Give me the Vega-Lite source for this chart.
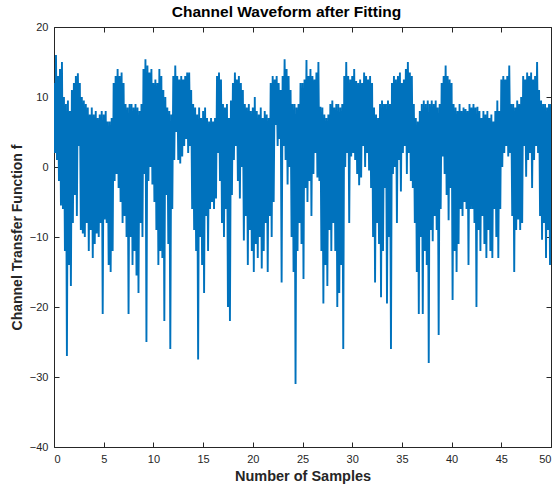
{
  "$schema": "https://vega.github.io/schema/vega-lite/v6.json",
  "autosize": {"type": "none"},
  "padding": {"left": 54, "top": 27, "right": 6, "bottom": 38},
  "width": 497,
  "height": 420,
  "background": "white",
  "config": {
    "font": "Liberation Sans",
    "view": {"stroke": null},
    "axis": {
      "domainColor": "#262626",
      "tickColor": "#262626",
      "labelColor": "#262626",
      "titleColor": "#262626",
      "labelFontSize": 11,
      "titleFontSize": 14.5,
      "titleFontWeight": "bold",
      "tickSize": -5,
      "grid": false,
      "domainWidth": 1,
      "tickWidth": 1
    }
  },
  "title": {"text": "Channel Waveform after Fitting", "fontSize": 15.5, "fontWeight": "bold", "color": "#000000", "anchor": "middle", "offset": 1, "dx": -16, "font": "Liberation Sans"},
  "data": {"values": [
{"x":0.0,"y":12},{"x":0.1,"y":2},{"x":0.2,"y":16},{"x":0.3,"y":1},{"x":0.4,"y":13},{"x":0.5,"y":-2},{"x":0.6,"y":14},{"x":0.7,"y":-5.5},{"x":0.8,"y":15},{"x":0.9,"y":-6},
{"x":1.0,"y":10},{"x":1.1,"y":-12},{"x":1.2,"y":9},{"x":1.3,"y":-27},{"x":1.4,"y":9.5},{"x":1.5,"y":-14},{"x":1.6,"y":8},{"x":1.7,"y":-17},{"x":1.8,"y":11},{"x":1.9,"y":-8},
{"x":2.0,"y":12},{"x":2.1,"y":-4},{"x":2.2,"y":13},{"x":2.3,"y":-7},{"x":2.4,"y":13.4},{"x":2.5,"y":3},{"x":2.6,"y":12},{"x":2.7,"y":-9},{"x":2.8,"y":10},{"x":2.9,"y":-9.5},
{"x":3.0,"y":9.5},{"x":3.1,"y":-10},{"x":3.2,"y":9},{"x":3.3,"y":-8},{"x":3.4,"y":8.5},{"x":3.5,"y":-12},{"x":3.6,"y":7.5},{"x":3.7,"y":-9},{"x":3.8,"y":8.5},{"x":3.9,"y":-13},
{"x":4.0,"y":7.5},{"x":4.1,"y":-11},{"x":4.2,"y":8},{"x":4.3,"y":-9.5},{"x":4.4,"y":7},{"x":4.5,"y":-10},{"x":4.6,"y":7.5},{"x":4.7,"y":-8},{"x":4.8,"y":8},{"x":4.9,"y":-21},
{"x":5.0,"y":7.5},{"x":5.1,"y":-7.5},{"x":5.2,"y":8},{"x":5.3,"y":-8},{"x":5.4,"y":6.5},{"x":5.5,"y":-14},{"x":5.6,"y":6.5},{"x":5.7,"y":-15},{"x":5.8,"y":7},{"x":5.9,"y":-12},
{"x":6.0,"y":12},{"x":6.1,"y":-2},{"x":6.2,"y":13},{"x":6.3,"y":-1},{"x":6.4,"y":14},{"x":6.5,"y":-3},{"x":6.6,"y":13},{"x":6.7,"y":-5},{"x":6.8,"y":13.5},{"x":6.9,"y":-8},
{"x":7.0,"y":12},{"x":7.1,"y":-7},{"x":7.2,"y":9},{"x":7.3,"y":-10},{"x":7.4,"y":8.5},{"x":7.5,"y":-21},{"x":7.6,"y":9},{"x":7.7,"y":-10},{"x":7.8,"y":9},{"x":7.9,"y":-14},
{"x":8.0,"y":8.5},{"x":8.1,"y":-12},{"x":8.2,"y":9},{"x":8.3,"y":-15.5},{"x":8.4,"y":8.5},{"x":8.5,"y":-18},{"x":8.6,"y":8},{"x":8.7,"y":-8},{"x":8.8,"y":9},{"x":8.9,"y":-10},
{"x":9.0,"y":14},{"x":9.1,"y":-1},{"x":9.2,"y":15.4},{"x":9.3,"y":-25},{"x":9.4,"y":14.5},{"x":9.5,"y":-2},{"x":9.6,"y":13.5},{"x":9.7,"y":0},{"x":9.8,"y":14},{"x":9.9,"y":-2.5},
{"x":10.0,"y":12},{"x":10.1,"y":-5},{"x":10.2,"y":12.5},{"x":10.3,"y":-9},{"x":10.4,"y":12},{"x":10.5,"y":-14},{"x":10.6,"y":14},{"x":10.7,"y":-12},{"x":10.8,"y":13},{"x":10.9,"y":-13},
{"x":11.0,"y":11},{"x":11.1,"y":-22},{"x":11.2,"y":10},{"x":11.3,"y":-4},{"x":11.4,"y":8.5},{"x":11.5,"y":-11},{"x":11.6,"y":8},{"x":11.7,"y":-26},{"x":11.8,"y":7.5},{"x":11.9,"y":-6},
{"x":12.0,"y":13},{"x":12.1,"y":1},{"x":12.2,"y":14.5},{"x":12.3,"y":5},{"x":12.4,"y":13},{"x":12.5,"y":1},{"x":12.6,"y":12.5},{"x":12.7,"y":0.5},{"x":12.8,"y":13},{"x":12.9,"y":1.5},
{"x":13.0,"y":12.5},{"x":13.1,"y":3},{"x":13.2,"y":13},{"x":13.3,"y":4},{"x":13.4,"y":13.5},{"x":13.5,"y":2},{"x":13.6,"y":13.5},{"x":13.7,"y":3},{"x":13.8,"y":11},{"x":13.9,"y":-6},
{"x":14.0,"y":9},{"x":14.1,"y":-9},{"x":14.2,"y":8.5},{"x":14.3,"y":-12},{"x":14.4,"y":7.5},{"x":14.5,"y":-27.5},{"x":14.6,"y":8.5},{"x":14.7,"y":-10},{"x":14.8,"y":7},{"x":14.9,"y":-14},
{"x":15.0,"y":8},{"x":15.1,"y":-18},{"x":15.2,"y":8.5},{"x":15.3,"y":-7},{"x":15.4,"y":7},{"x":15.5,"y":-12},{"x":15.6,"y":6.5},{"x":15.7,"y":-6},{"x":15.8,"y":7},{"x":15.9,"y":-5},
{"x":16.0,"y":6.5},{"x":16.1,"y":-6},{"x":16.2,"y":7},{"x":16.3,"y":-4.5},{"x":16.4,"y":13},{"x":16.5,"y":2},{"x":16.6,"y":13.5},{"x":16.7,"y":-2},{"x":16.8,"y":12.5},{"x":16.9,"y":-8},
{"x":17.0,"y":9},{"x":17.1,"y":-10},{"x":17.2,"y":8.5},{"x":17.3,"y":-6},{"x":17.4,"y":9},{"x":17.5,"y":-20},{"x":17.6,"y":7},{"x":17.7,"y":-22},{"x":17.8,"y":9.5},{"x":17.9,"y":-4},
{"x":18.0,"y":12},{"x":18.1,"y":1},{"x":18.2,"y":13.5},{"x":18.3,"y":3},{"x":18.4,"y":12.5},{"x":18.5,"y":-2},{"x":18.6,"y":13},{"x":18.7,"y":-4.5},{"x":18.8,"y":12},{"x":18.9,"y":0},
{"x":19.0,"y":11},{"x":19.1,"y":-10.5},{"x":19.2,"y":9},{"x":19.3,"y":-7},{"x":19.4,"y":8.5},{"x":19.5,"y":-14},{"x":19.6,"y":9},{"x":19.7,"y":-9},{"x":19.8,"y":8},{"x":19.9,"y":-12},
{"x":20.0,"y":8.5},{"x":20.1,"y":-15},{"x":20.2,"y":10},{"x":20.3,"y":-11},{"x":20.4,"y":8},{"x":20.5,"y":-13},{"x":20.6,"y":7.5},{"x":20.7,"y":-10},{"x":20.8,"y":8.5},{"x":20.9,"y":-14.5},
{"x":21.0,"y":7},{"x":21.1,"y":-12},{"x":21.2,"y":8},{"x":21.3,"y":-8},{"x":21.4,"y":7.5},{"x":21.5,"y":-15},{"x":21.6,"y":7},{"x":21.7,"y":-7},{"x":21.8,"y":12},{"x":21.9,"y":-10},
{"x":22.0,"y":13},{"x":22.1,"y":-5},{"x":22.2,"y":12.5},{"x":22.3,"y":6},{"x":22.4,"y":13},{"x":22.5,"y":3},{"x":22.6,"y":12},{"x":22.7,"y":4},{"x":22.8,"y":11},{"x":22.9,"y":-16.5},
{"x":23.0,"y":13},{"x":23.1,"y":3},{"x":23.2,"y":15.4},{"x":23.3,"y":1},{"x":23.4,"y":14},{"x":23.5,"y":-2.5},{"x":23.6,"y":13},{"x":23.7,"y":0},{"x":23.8,"y":11},{"x":23.9,"y":-10},
{"x":24.0,"y":9},{"x":24.1,"y":-15},{"x":24.2,"y":9},{"x":24.3,"y":-31},{"x":24.4,"y":8.5},{"x":24.5,"y":-12},{"x":24.6,"y":9},{"x":24.7,"y":-8},{"x":24.8,"y":12},{"x":24.9,"y":-11},
{"x":25.0,"y":12},{"x":25.1,"y":-16},{"x":25.2,"y":12.5},{"x":25.3,"y":-3},{"x":25.4,"y":15.3},{"x":25.5,"y":-5},{"x":25.6,"y":13},{"x":25.7,"y":-2},{"x":25.8,"y":14},{"x":25.9,"y":-7},
{"x":26.0,"y":13},{"x":26.1,"y":-1},{"x":26.2,"y":12.5},{"x":26.3,"y":2},{"x":26.4,"y":13.5},{"x":26.5,"y":-1.5},{"x":26.6,"y":15},{"x":26.7,"y":-2},{"x":26.8,"y":8.6},{"x":26.9,"y":-12},
{"x":27.0,"y":8.5},{"x":27.1,"y":-19.5},{"x":27.2,"y":7.5},{"x":27.3,"y":-14},{"x":27.4,"y":7},{"x":27.5,"y":-17},{"x":27.6,"y":7.5},{"x":27.7,"y":-9},{"x":27.8,"y":9},{"x":27.9,"y":-12},
{"x":28.0,"y":9.5},{"x":28.1,"y":-8},{"x":28.2,"y":8.5},{"x":28.3,"y":-12},{"x":28.4,"y":9},{"x":28.5,"y":-20},{"x":28.6,"y":9},{"x":28.7,"y":-18},{"x":28.8,"y":8.5},{"x":28.9,"y":-14},
{"x":29.0,"y":9},{"x":29.1,"y":-26},{"x":29.2,"y":13},{"x":29.3,"y":0},{"x":29.4,"y":15},{"x":29.5,"y":2},{"x":29.6,"y":13},{"x":29.7,"y":-8},{"x":29.8,"y":12.5},{"x":29.9,"y":1.5},
{"x":30.0,"y":13},{"x":30.1,"y":2},{"x":30.2,"y":14},{"x":30.3,"y":1},{"x":30.4,"y":12.3},{"x":30.5,"y":-1},{"x":30.6,"y":12},{"x":30.7,"y":-2.6},{"x":30.8,"y":12.5},{"x":30.9,"y":-1.5},
{"x":31.0,"y":12},{"x":31.1,"y":3},{"x":31.2,"y":13.5},{"x":31.3,"y":0},{"x":31.4,"y":13},{"x":31.5,"y":2},{"x":31.6,"y":12.5},{"x":31.7,"y":-0.5},{"x":31.8,"y":13},{"x":31.9,"y":-3},
{"x":32.0,"y":12},{"x":32.1,"y":-10},{"x":32.2,"y":8.5},{"x":32.3,"y":-16.5},{"x":32.4,"y":7.5},{"x":32.5,"y":-8},{"x":32.6,"y":7},{"x":32.7,"y":-11},{"x":32.8,"y":9},{"x":32.9,"y":-18.6},
{"x":33.0,"y":9.5},{"x":33.1,"y":-12},{"x":33.2,"y":9},{"x":33.3,"y":-3},{"x":33.4,"y":9},{"x":33.5,"y":-19.5},{"x":33.6,"y":9.5},{"x":33.7,"y":-10},{"x":33.8,"y":9},{"x":33.9,"y":-26},
{"x":34.0,"y":12},{"x":34.1,"y":-1},{"x":34.2,"y":13},{"x":34.3,"y":0},{"x":34.4,"y":12.5},{"x":34.5,"y":-8},{"x":34.6,"y":13},{"x":34.7,"y":1},{"x":34.8,"y":13.5},{"x":34.9,"y":-3.5},
{"x":35.0,"y":12},{"x":35.1,"y":2},{"x":35.2,"y":12.5},{"x":35.3,"y":3},{"x":35.4,"y":14},{"x":35.5,"y":-1},{"x":35.6,"y":15},{"x":35.7,"y":2},{"x":35.8,"y":13.5},{"x":35.9,"y":-2},
{"x":36.0,"y":13},{"x":36.1,"y":-3},{"x":36.2,"y":9},{"x":36.3,"y":-8},{"x":36.4,"y":7},{"x":36.5,"y":-15},{"x":36.6,"y":6.5},{"x":36.7,"y":-21},{"x":36.8,"y":8},{"x":36.9,"y":-10},
{"x":37.0,"y":9},{"x":37.1,"y":-21},{"x":37.2,"y":9.5},{"x":37.3,"y":-12},{"x":37.4,"y":9},{"x":37.5,"y":-14},{"x":37.6,"y":9.5},{"x":37.7,"y":-28},{"x":37.8,"y":9},{"x":37.9,"y":-9},
{"x":38.0,"y":9.5},{"x":38.1,"y":-10.6},{"x":38.2,"y":9},{"x":38.3,"y":-7},{"x":38.4,"y":9.5},{"x":38.5,"y":-9},{"x":38.6,"y":8.5},{"x":38.7,"y":-24},{"x":38.8,"y":9},{"x":38.9,"y":-6},
{"x":39.0,"y":12},{"x":39.1,"y":1.5},{"x":39.2,"y":13},{"x":39.3,"y":-1},{"x":39.4,"y":14.5},{"x":39.5,"y":-4},{"x":39.6,"y":13},{"x":39.7,"y":-7.6},{"x":39.8,"y":12.5},{"x":39.9,"y":-3},
{"x":40.0,"y":12},{"x":40.1,"y":-19},{"x":40.2,"y":9},{"x":40.3,"y":-12},{"x":40.4,"y":8.5},{"x":40.5,"y":-15},{"x":40.6,"y":8},{"x":40.7,"y":-11},{"x":40.8,"y":9},{"x":40.9,"y":-6},
{"x":41.0,"y":8},{"x":41.1,"y":-7},{"x":41.2,"y":8.5},{"x":41.3,"y":-5},{"x":41.4,"y":8.3},{"x":41.5,"y":-6},{"x":41.6,"y":8},{"x":41.7,"y":-14},{"x":41.8,"y":9},{"x":41.9,"y":-6},
{"x":42.0,"y":8.5},{"x":42.1,"y":-6},{"x":42.2,"y":9},{"x":42.3,"y":-8},{"x":42.4,"y":8.5},{"x":42.5,"y":-20},{"x":42.6,"y":8.6},{"x":42.7,"y":-9},{"x":42.8,"y":8},{"x":42.9,"y":-12},
{"x":43.0,"y":7},{"x":43.1,"y":-7},{"x":43.2,"y":8},{"x":43.3,"y":-11},{"x":43.4,"y":7.5},{"x":43.5,"y":-13},{"x":43.6,"y":8},{"x":43.7,"y":-9},{"x":43.8,"y":7},{"x":43.9,"y":-12},
{"x":44.0,"y":7.5},{"x":44.1,"y":-13},{"x":44.2,"y":6.5},{"x":44.3,"y":-6},{"x":44.4,"y":8},{"x":44.5,"y":-10},{"x":44.6,"y":9.5},{"x":44.7,"y":-13},{"x":44.8,"y":8},{"x":44.9,"y":-6},
{"x":45.0,"y":12.5},{"x":45.1,"y":0},{"x":45.2,"y":13},{"x":45.3,"y":2},{"x":45.4,"y":12.5},{"x":45.5,"y":3},{"x":45.6,"y":13},{"x":45.7,"y":1.5},{"x":45.8,"y":14.5},{"x":45.9,"y":2},
{"x":46.0,"y":9},{"x":46.1,"y":-7},{"x":46.2,"y":9},{"x":46.3,"y":-15},{"x":46.4,"y":8.5},{"x":46.5,"y":-9},{"x":46.6,"y":9.5},{"x":46.7,"y":-7.5},{"x":46.8,"y":9},{"x":46.9,"y":-9},
{"x":47.0,"y":10},{"x":47.1,"y":-8},{"x":47.2,"y":13},{"x":47.3,"y":3},{"x":47.4,"y":12.5},{"x":47.5,"y":-1.4},{"x":47.6,"y":13.5},{"x":47.7,"y":1},{"x":47.8,"y":13},{"x":47.9,"y":2},
{"x":48.0,"y":13.5},{"x":48.1,"y":-3},{"x":48.2,"y":12.5},{"x":48.3,"y":1},{"x":48.4,"y":13},{"x":48.5,"y":3},{"x":48.6,"y":15},{"x":48.7,"y":2},{"x":48.8,"y":11},{"x":48.9,"y":-7},
{"x":49.0,"y":9.5},{"x":49.1,"y":-10.4},{"x":49.2,"y":9},{"x":49.3,"y":-8},{"x":49.4,"y":9},{"x":49.5,"y":-13},{"x":49.6,"y":8.5},{"x":49.7,"y":-9},{"x":49.8,"y":9},{"x":49.9,"y":-14},
{"x":50.0,"y":9}
  ]},
  "layer": [
    {
      "mark": {"type": "line", "color": "#0072BD", "strokeWidth": 1.9, "clip": true},
      "encoding": {
        "x": {"field": "x", "type": "quantitative", "scale": {"domain": [0, 50], "nice": false, "zero": false},
              "axis": {"orient": "bottom", "title": "Number of Samples", "values": [0,5,10,15,20,25,30,35,40,45,50], "labelPadding": 11, "titlePadding": 5}},
        "y": {"field": "y", "type": "quantitative", "scale": {"domain": [-40, 20], "nice": false, "zero": false},
              "axis": {"orient": "left", "title": "Channel Transfer Function f", "titleFontSize": 14, "values": [-40,-30,-20,-10,0,10,20], "labelPadding": 11, "titlePadding": 5}}
      }
    },
    {
      "mark": {"type": "line", "opacity": 0},
      "encoding": {
        "x": {"field": "x", "type": "quantitative", "axis": {"orient": "top", "labels": false, "title": null, "values": [0,5,10,15,20,25,30,35,40,45,50]}},
        "y": {"field": "y", "type": "quantitative", "axis": {"orient": "right", "labels": false, "title": null, "values": [-40,-30,-20,-10,0,10,20]}}
      }
    }
  ],
  "resolve": {"axis": {"x": "independent", "y": "independent"}}
}
